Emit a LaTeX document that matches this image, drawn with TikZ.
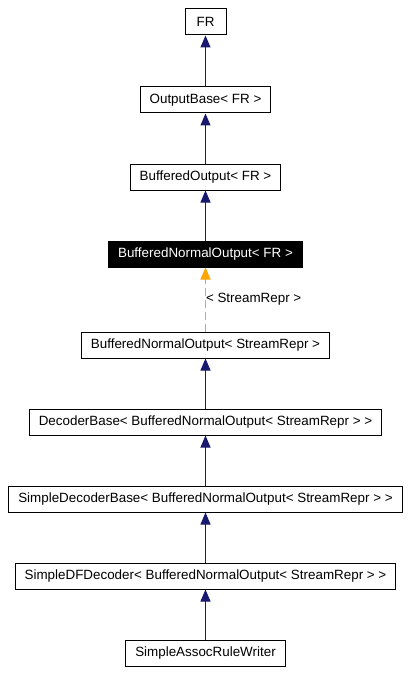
\documentclass[tikz,border=0pt]{standalone}
\usepackage{fontspec}
\setmainfont{Liberation Sans}
\usetikzlibrary{arrows.meta}
\definecolor{edgeblue}{RGB}{25,25,112}
\definecolor{tmplorange}{RGB}{255,165,0}
\begin{document}
\begin{tikzpicture}[x=1pt,y=-1pt,
  cls/.style={draw=black,fill=white,line width=1pt,font=\fontsize{13.4}{15}\selectfont,minimum height=26pt,inner xsep=9.5pt,inner ysep=0pt},
  cur/.style={cls,fill=black,text=white},
  inh/.style={edgeblue,line width=1pt,-{Triangle[length=12pt,width=10pt]}},
  tmpl/.style={tmplorange,line width=1pt,dash pattern=on 8pt off 4pt,-{Triangle[length=12pt,width=10pt]}}]
\useasboundingbox (0,0) rectangle (410,674);
%\draw[step=50,gray,very thin] (0,0) grid (410,674); %background grid

\node[cls,minimum width=41pt] (fr) at (205.5,22) {FR};
\node[cls] (outbase) at (205.5,100) {OutputBase< FR >};
\node[cls] (bufout) at (205.5,177) {BufferedOutput< FR >};
\node[cur] (bufnorm) at (205.5,254) {BufferedNormalOutput< FR >};
\node[cls] (bufnormsr) at (205.5,345) {BufferedNormalOutput< StreamRepr >};
\node[cls] (decbase) at (205.5,422) {DecoderBase< BufferedNormalOutput< StreamRepr > >};
\node[cls] (simpdecbase) at (205.5,499) {SimpleDecoderBase< BufferedNormalOutput< StreamRepr > >};
\node[cls] (simpdf) at (205.5,576) {SimpleDFDecoder< BufferedNormalOutput< StreamRepr > >};
\node[cls] (writer) at (205.5,653) {SimpleAssocRuleWriter};

\draw[inh] (outbase) -- (fr);
\draw[inh] (bufout) -- (outbase);
\draw[inh] (bufnorm) -- (bufout);
\draw[tmpl] (bufnormsr) -- node[right,inner xsep=0pt,text=black,font=\fontsize{13.4}{15}\selectfont] {< StreamRepr >} (bufnorm);
\draw[inh] (decbase) -- (bufnormsr);
\draw[inh] (simpdecbase) -- (decbase);
\draw[inh] (simpdf) -- (simpdecbase);
\draw[inh] (writer) -- (simpdf);

\end{tikzpicture}
\end{document}
